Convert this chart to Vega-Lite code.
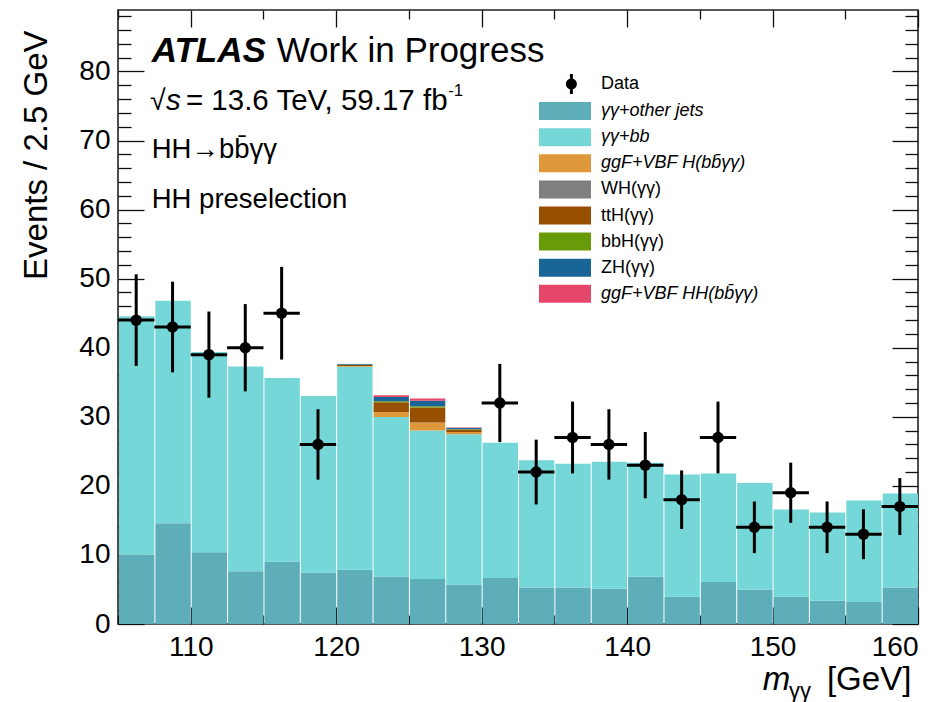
{
  "$schema": "https://vega.github.io/schema/vega-lite/v6.json",
  "width": 800,
  "height": 614,
  "autosize": {"type": "none"},
  "padding": {"left": 118, "top": 10, "right": 28, "bottom": 78},
  "background": "white",
  "config": {
    "font": "Liberation Sans",
    "view": {"stroke": "#222222", "strokeWidth": 1.6},
    "axis": {
      "domain": false, "grid": false, "tickColor": "#111111", "tickWidth": 1.3,
      "labelColor": "black", "labelFont": "Liberation Sans", "labelFontSize": 28,
      "titleFont": "Liberation Sans", "titleColor": "black", "titleFontWeight": "normal"
    },
    "legend": {"padding": 0}
  },
  "datasets": {
    "bkg": [
      {"lo": 105, "hi": 107.5, "p": "γγ+other jets", "k": 1, "n": 10.07},
      {"lo": 107.5, "hi": 110, "p": "γγ+other jets", "k": 1, "n": 14.6},
      {"lo": 110, "hi": 112.5, "p": "γγ+other jets", "k": 1, "n": 10.4},
      {"lo": 112.5, "hi": 115, "p": "γγ+other jets", "k": 1, "n": 7.65},
      {"lo": 115, "hi": 117.5, "p": "γγ+other jets", "k": 1, "n": 9.0},
      {"lo": 117.5, "hi": 120, "p": "γγ+other jets", "k": 1, "n": 7.47},
      {"lo": 120, "hi": 122.5, "p": "γγ+other jets", "k": 1, "n": 7.85},
      {"lo": 122.5, "hi": 125, "p": "γγ+other jets", "k": 1, "n": 6.89},
      {"lo": 125, "hi": 127.5, "p": "γγ+other jets", "k": 1, "n": 6.5},
      {"lo": 127.5, "hi": 130, "p": "γγ+other jets", "k": 1, "n": 5.73},
      {"lo": 130, "hi": 132.5, "p": "γγ+other jets", "k": 1, "n": 6.65},
      {"lo": 132.5, "hi": 135, "p": "γγ+other jets", "k": 1, "n": 5.3},
      {"lo": 135, "hi": 137.5, "p": "γγ+other jets", "k": 1, "n": 5.3},
      {"lo": 137.5, "hi": 140, "p": "γγ+other jets", "k": 1, "n": 5.1},
      {"lo": 140, "hi": 142.5, "p": "γγ+other jets", "k": 1, "n": 6.84},
      {"lo": 142.5, "hi": 145, "p": "γγ+other jets", "k": 1, "n": 3.95},
      {"lo": 145, "hi": 147.5, "p": "γγ+other jets", "k": 1, "n": 6.07},
      {"lo": 147.5, "hi": 150, "p": "γγ+other jets", "k": 1, "n": 4.96},
      {"lo": 150, "hi": 152.5, "p": "γγ+other jets", "k": 1, "n": 3.95},
      {"lo": 152.5, "hi": 155, "p": "γγ+other jets", "k": 1, "n": 3.37},
      {"lo": 155, "hi": 157.5, "p": "γγ+other jets", "k": 1, "n": 3.18},
      {"lo": 157.5, "hi": 160, "p": "γγ+other jets", "k": 1, "n": 5.3},
      {"lo": 105, "hi": 107.5, "p": "γγ+bb", "k": 2, "n": 34.49},
      {"lo": 107.5, "hi": 110, "p": "γγ+bb", "k": 2, "n": 32.2},
      {"lo": 110, "hi": 112.5, "p": "γγ+bb", "k": 2, "n": 29.0},
      {"lo": 112.5, "hi": 115, "p": "γγ+bb", "k": 2, "n": 29.65},
      {"lo": 115, "hi": 117.5, "p": "γγ+bb", "k": 2, "n": 26.6},
      {"lo": 117.5, "hi": 120, "p": "γγ+bb", "k": 2, "n": 25.53},
      {"lo": 120, "hi": 122.5, "p": "γγ+bb", "k": 2, "n": 29.4},
      {"lo": 122.5, "hi": 125, "p": "γγ+bb", "k": 2, "n": 23.07},
      {"lo": 125, "hi": 127.5, "p": "γγ+bb", "k": 2, "n": 21.53},
      {"lo": 127.5, "hi": 130, "p": "γγ+bb", "k": 2, "n": 21.73},
      {"lo": 130, "hi": 132.5, "p": "γγ+bb", "k": 2, "n": 19.61},
      {"lo": 132.5, "hi": 135, "p": "γγ+bb", "k": 2, "n": 18.4},
      {"lo": 135, "hi": 137.5, "p": "γγ+bb", "k": 2, "n": 17.9},
      {"lo": 137.5, "hi": 140, "p": "γγ+bb", "k": 2, "n": 18.4},
      {"lo": 140, "hi": 142.5, "p": "γγ+bb", "k": 2, "n": 16.51},
      {"lo": 142.5, "hi": 145, "p": "γγ+bb", "k": 2, "n": 17.7},
      {"lo": 145, "hi": 147.5, "p": "γγ+bb", "k": 2, "n": 15.73},
      {"lo": 147.5, "hi": 150, "p": "γγ+bb", "k": 2, "n": 15.46},
      {"lo": 150, "hi": 152.5, "p": "γγ+bb", "k": 2, "n": 12.62},
      {"lo": 152.5, "hi": 155, "p": "γγ+bb", "k": 2, "n": 12.77},
      {"lo": 155, "hi": 157.5, "p": "γγ+bb", "k": 2, "n": 14.69},
      {"lo": 157.5, "hi": 160, "p": "γγ+bb", "k": 2, "n": 13.58},
      {"lo": 120, "hi": 122.5, "p": "ggF+VBF H(bb\u0304γγ)", "k": 3, "n": 0.1},
      {"lo": 122.5, "hi": 125, "p": "ggF+VBF H(bb\u0304γγ)", "k": 3, "n": 0.72},
      {"lo": 125, "hi": 127.5, "p": "ggF+VBF H(bb\u0304γγ)", "k": 3, "n": 1.11},
      {"lo": 127.5, "hi": 130, "p": "ggF+VBF H(bb\u0304γγ)", "k": 3, "n": 0.33},
      {"lo": 120, "hi": 122.5, "p": "WH(γγ)", "k": 4, "n": 0.01},
      {"lo": 122.5, "hi": 125, "p": "WH(γγ)", "k": 4, "n": 0.03},
      {"lo": 125, "hi": 127.5, "p": "WH(γγ)", "k": 4, "n": 0.04},
      {"lo": 127.5, "hi": 130, "p": "WH(γγ)", "k": 4, "n": 0.02},
      {"lo": 120, "hi": 122.5, "p": "ttH(γγ)", "k": 5, "n": 0.15},
      {"lo": 122.5, "hi": 125, "p": "ttH(γγ)", "k": 5, "n": 1.4},
      {"lo": 125, "hi": 127.5, "p": "ttH(γγ)", "k": 5, "n": 2.17},
      {"lo": 127.5, "hi": 130, "p": "ttH(γγ)", "k": 5, "n": 0.33},
      {"lo": 120, "hi": 122.5, "p": "bbH(γγ)", "k": 6, "n": 0.03},
      {"lo": 122.5, "hi": 125, "p": "bbH(γγ)", "k": 6, "n": 0.15},
      {"lo": 125, "hi": 127.5, "p": "bbH(γγ)", "k": 6, "n": 0.19},
      {"lo": 127.5, "hi": 130, "p": "bbH(γγ)", "k": 6, "n": 0.05},
      {"lo": 120, "hi": 122.5, "p": "ZH(γγ)", "k": 7, "n": 0.1},
      {"lo": 122.5, "hi": 125, "p": "ZH(γγ)", "k": 7, "n": 0.62},
      {"lo": 125, "hi": 127.5, "p": "ZH(γγ)", "k": 7, "n": 0.77},
      {"lo": 127.5, "hi": 130, "p": "ZH(γγ)", "k": 7, "n": 0.2},
      {"lo": 120, "hi": 122.5, "p": "ggF+VBF HH(bb\u0304γγ)", "k": 8, "n": 0.02},
      {"lo": 122.5, "hi": 125, "p": "ggF+VBF HH(bb\u0304γγ)", "k": 8, "n": 0.25},
      {"lo": 125, "hi": 127.5, "p": "ggF+VBF HH(bb\u0304γγ)", "k": 8, "n": 0.35},
      {"lo": 127.5, "hi": 130, "p": "ggF+VBF HH(bb\u0304γγ)", "k": 8, "n": 0.06}
    ],
    "obs": [
      {"m": 106.25, "a": 105, "b": 107.5, "n": 44, "lo": 37.37, "hi": 50.63},
      {"m": 108.75, "a": 107.5, "b": 110, "n": 43, "lo": 36.44, "hi": 49.56},
      {"m": 111.25, "a": 110, "b": 112.5, "n": 39, "lo": 32.76, "hi": 45.24},
      {"m": 113.75, "a": 112.5, "b": 115, "n": 40, "lo": 33.68, "hi": 46.32},
      {"m": 116.25, "a": 115, "b": 117.5, "n": 45, "lo": 38.29, "hi": 51.71},
      {"m": 118.75, "a": 117.5, "b": 120, "n": 26, "lo": 20.9, "hi": 31.1},
      {"m": 131.25, "a": 130, "b": 132.5, "n": 32, "lo": 26.34, "hi": 37.66},
      {"m": 133.75, "a": 132.5, "b": 135, "n": 22, "lo": 17.31, "hi": 26.69},
      {"m": 136.25, "a": 135, "b": 137.5, "n": 27, "lo": 21.8, "hi": 32.2},
      {"m": 138.75, "a": 137.5, "b": 140, "n": 26, "lo": 20.9, "hi": 31.1},
      {"m": 141.25, "a": 140, "b": 142.5, "n": 23, "lo": 18.2, "hi": 27.8},
      {"m": 143.75, "a": 142.5, "b": 145, "n": 18, "lo": 13.76, "hi": 22.24},
      {"m": 146.25, "a": 145, "b": 147.5, "n": 27, "lo": 21.8, "hi": 32.2},
      {"m": 148.75, "a": 147.5, "b": 150, "n": 14, "lo": 10.26, "hi": 17.74},
      {"m": 151.25, "a": 150, "b": 152.5, "n": 19, "lo": 14.64, "hi": 23.36},
      {"m": 153.75, "a": 152.5, "b": 155, "n": 14, "lo": 10.26, "hi": 17.74},
      {"m": 156.25, "a": 155, "b": 157.5, "n": 13, "lo": 9.39, "hi": 16.61},
      {"m": 158.75, "a": 157.5, "b": 160, "n": 17, "lo": 12.88, "hi": 21.12}
    ]
  },
  "resolve": {"axis": {"x": "independent", "y": "independent"}},
  "layer": [
    {
      "data": {"name": "bkg"},
      "mark": {"type": "bar", "strokeWidth": 0},
      "encoding": {
        "x": {"field": "lo", "type": "quantitative", "bin": "binned",
              "scale": {"domain": [105, 160], "nice": false, "zero": false},
              "axis": {"orient": "bottom", "values": [110, 120, 130, 140, 150, 160], "tickSize": -17, "labelPadding": 26, "title": null, "format": "d"}},
        "x2": {"field": "hi"},
        "y": {"field": "n", "type": "quantitative", "stack": "zero",
              "scale": {"domain": [0, 88.9], "nice": false},
              "axis": {"orient": "left", "values": [0, 10, 20, 30, 40, 50, 60, 70, 80], "tickSize": -26, "labelPadding": 34,
                       "title": "Events / 2.5 GeV", "titleFontSize": 33, "titleAngle": -90, "titleAlign": "right", "titleBaseline": "top", "titleX": -98, "titleY": 20}},
        "order": {"field": "k", "type": "quantitative", "sort": "ascending"},
        "color": {"field": "p", "type": "nominal",
                  "sort": ["Data", "γγ+other jets", "γγ+bb", "ggF+VBF H(bb\u0304γγ)", "WH(γγ)", "ttH(γγ)", "bbH(γγ)", "ZH(γγ)", "ggF+VBF HH(bb\u0304γγ)"],
                  "scale": {"domain": ["Data", "γγ+other jets", "γγ+bb", "ggF+VBF H(bb\u0304γγ)", "WH(γγ)", "ttH(γγ)", "bbH(γγ)", "ZH(γγ)", "ggF+VBF HH(bb\u0304γγ)"],
                            "range": ["#000000", "#5eaeb9", "#75d7d7", "#e0993a", "#7f7f7f", "#974f02", "#689b09", "#1a6597", "#e4476a"]},
                  "legend": {
                    "title": null, "orient": "none", "legendX": 438, "legendY": 65,
                    "labelFont": "Liberation Sans", "labelFontSize": 18, "labelColor": "black", "labelOffset": 27,
                    "symbolSize": 324, "rowPadding": 8.1, "labelLimit": 400,
                    "encode": {
                      "symbols": {"update": {
                        "shape": {"signal": "datum.label === 'Data' ? 'M0.1,0A0.611,0.611 0 1,1 1.322,0A0.611,0.611 0 1,1 0.1,0Z M0.544,-1.111L0.878,-1.111L0.878,1.111L0.544,1.111Z' : 'M-2.889,-1L2.889,-1L2.889,1L-2.889,1Z'"},
                        "strokeWidth": {"value": 0}, "opacity": {"value": 1}, "fillOpacity": {"value": 1}}},
                      "labels": {"update": {
                        "fontStyle": {"signal": "indexof(['WH(γγ)','ttH(γγ)','bbH(γγ)','ZH(γγ)','Data'], datum.label) >= 0 ? 'normal' : 'italic'"}}}
                    }
                  }}
      }
    },
    {
      "data": {"name": "obs"},
      "mark": {"type": "rule", "color": "black", "strokeWidth": 3},
      "encoding": {
        "x": {"field": "a", "type": "quantitative",
              "axis": {"orient": "bottom", "values": [105, 115, 125, 135, 145, 155], "tickSize": -9, "labels": false, "title": null}},
        "x2": {"field": "b"},
        "y": {"field": "n", "type": "quantitative",
              "axis": {"orient": "left", "values": [2, 4, 6, 8, 12, 14, 16, 18, 22, 24, 26, 28, 32, 34, 36, 38, 42, 44, 46, 48, 52, 54, 56, 58, 62, 64, 66, 68, 72, 74, 76, 78, 82, 84, 86, 88], "tickSize": -13, "labels": false, "title": null}}
      }
    },
    {
      "data": {"name": "obs"},
      "mark": {"type": "rule", "color": "black", "strokeWidth": 3},
      "encoding": {
        "x": {"field": "m", "type": "quantitative",
              "axis": {"orient": "top", "values": [110, 120, 130, 140, 150, 160], "tickSize": -17, "labels": false, "title": null}},
        "y": {"field": "lo", "type": "quantitative",
              "axis": {"orient": "right", "values": [0, 10, 20, 30, 40, 50, 60, 70, 80], "tickSize": -26, "labels": false, "title": null}},
        "y2": {"field": "hi"}
      }
    },
    {
      "data": {"name": "obs"},
      "mark": {"type": "point", "filled": true, "size": 130, "opacity": 1},
      "encoding": {
        "x": {"field": "m", "type": "quantitative",
              "axis": {"orient": "top", "values": [105, 115, 125, 135, 145, 155], "tickSize": -9, "labels": false, "title": null}},
        "y": {"field": "n", "type": "quantitative",
              "axis": {"orient": "right", "values": [2, 4, 6, 8, 12, 14, 16, 18, 22, 24, 26, 28, 32, 34, 36, 38, 42, 44, 46, 48, 52, 54, 56, 58, 62, 64, 66, 68, 72, 74, 76, 78, 82, 84, 86, 88], "tickSize": -13, "labels": false, "title": null}},
        "color": {"datum": "Data", "type": "nominal"}
      }
    },
    {
      "data": {"values": [{}]},
      "mark": {"type": "text", "text": "ATLAS", "align": "left", "baseline": "alphabetic", "font": "Liberation Sans", "fontSize": 35, "fontStyle": "italic", "fontWeight": "bold", "color": "black"},
      "encoding": {"x": {"datum": 107.32, "type": "quantitative", "axis": null}, "y": {"datum": 81.42, "type": "quantitative", "axis": null}}
    },
    {
      "data": {"values": [{}]},
      "mark": {"type": "text", "text": "Work in Progress", "align": "left", "baseline": "alphabetic", "font": "Liberation Sans", "fontSize": 35, "color": "black"},
      "encoding": {"x": {"datum": 115.91, "type": "quantitative", "axis": null}, "y": {"datum": 81.42, "type": "quantitative", "axis": null}}
    },
    {
      "data": {"values": [{}]},
      "mark": {"type": "text", "text": "√", "align": "left", "baseline": "alphabetic", "font": "Liberation Sans", "fontSize": 28.5, "color": "black"},
      "encoding": {"x": {"datum": 107.2, "type": "quantitative", "axis": null}, "y": {"datum": 74.42, "type": "quantitative", "axis": null}}
    },
    {
      "data": {"values": [{}]},
      "mark": {"type": "text", "text": "s", "align": "left", "baseline": "alphabetic", "font": "Liberation Sans", "fontSize": 29.5, "fontStyle": "italic", "color": "black"},
      "encoding": {"x": {"datum": 108.3, "type": "quantitative", "axis": null}, "y": {"datum": 74.42, "type": "quantitative", "axis": null}}
    },
    {
      "data": {"values": [{}]},
      "mark": {"type": "text", "text": "= 13.6 TeV, 59.17 fb", "align": "left", "baseline": "alphabetic", "font": "Liberation Sans", "fontSize": 29.5, "color": "black"},
      "encoding": {"x": {"datum": 109.67, "type": "quantitative", "axis": null}, "y": {"datum": 74.42, "type": "quantitative", "axis": null}}
    },
    {
      "data": {"values": [{}]},
      "mark": {"type": "text", "text": "-1", "align": "left", "baseline": "alphabetic", "font": "Liberation Sans", "fontSize": 17, "color": "black"},
      "encoding": {"x": {"datum": 127.7, "type": "quantitative", "axis": null}, "y": {"datum": 76.4, "type": "quantitative", "axis": null}}
    },
    {
      "data": {"values": [{}]},
      "mark": {"type": "text", "text": "HH→bb\u0304γγ", "align": "left", "baseline": "alphabetic", "font": "Liberation Sans", "fontSize": 27.5, "color": "black"},
      "encoding": {"x": {"datum": 107.32, "type": "quantitative", "axis": null}, "y": {"datum": 67.43, "type": "quantitative", "axis": null}}
    },
    {
      "data": {"values": [{}]},
      "mark": {"type": "text", "text": "HH preselection", "align": "left", "baseline": "alphabetic", "font": "Liberation Sans", "fontSize": 27.5, "color": "black"},
      "encoding": {"x": {"datum": 107.32, "type": "quantitative", "axis": null}, "y": {"datum": 60.19, "type": "quantitative", "axis": null}}
    },
    {
      "data": {"values": [{}]},
      "mark": {"type": "text", "text": "m", "align": "left", "baseline": "alphabetic", "font": "Liberation Sans", "fontSize": 33, "fontStyle": "italic", "color": "black"},
      "encoding": {"x": {"datum": 149.32, "type": "quantitative", "axis": null}, "y": {"datum": -9.6, "type": "quantitative", "axis": null}}
    },
    {
      "data": {"values": [{}]},
      "mark": {"type": "text", "text": "γγ", "align": "left", "baseline": "alphabetic", "font": "Liberation Sans", "fontSize": 22, "color": "black"},
      "encoding": {"x": {"datum": 151.13, "type": "quantitative", "axis": null}, "y": {"datum": -10.75, "type": "quantitative", "axis": null}}
    },
    {
      "data": {"values": [{}]},
      "mark": {"type": "text", "text": "[GeV]", "align": "left", "baseline": "alphabetic", "font": "Liberation Sans", "fontSize": 33, "color": "black"},
      "encoding": {"x": {"datum": 153.74, "type": "quantitative", "axis": null}, "y": {"datum": -9.6, "type": "quantitative", "axis": null}}
    }
  ]
}
